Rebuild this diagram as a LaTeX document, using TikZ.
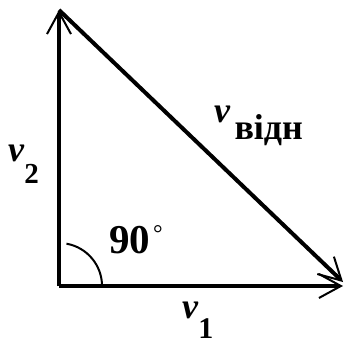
\documentclass[tikz,border=0pt]{standalone}
\usepackage{fontspec}
\setmainfont{Liberation Serif}
\usetikzlibrary{arrows.meta}
\begin{document}
\begin{tikzpicture}[x=1pt, y=-1pt, every node/.style={font=\fontsize{36}{38}\selectfont\bfseries, inner sep=0pt, anchor=base west},
  vec/.style={line width=4pt, -{Straight Barb[length=22pt,width=24pt,line width=2pt]}}]
\useasboundingbox (0,0) rectangle (346,347);
\coordinate (o) at (59,286);
\coordinate (top) at (59,10);
\coordinate (right) at (343,286);
\coordinate (tip) at (343,282);
\draw[vec] (o) -- (top);
\draw[vec] (o) -- (right);
\draw[vec] (top) -- (tip);
\draw[line width=2pt] (66.5,243.7) arc[start angle=-80, end angle=0, radius=43];
\node (v2) at (8,162) {\textit{v}\raisebox{-21pt}{\fontsize{29}{29}\selectfont 2}};
\node (v1) at (182,318) {\textit{v}\raisebox{-20pt}{\fontsize{30}{30}\selectfont 1}};
\node (ang) at (109,253) {\fontsize{41}{41}\selectfont 90\kern3pt\raisebox{12pt}{\fontsize{24}{24}\selectfont\mdseries °}};
\node (vrel) at (214,123) {\textit{v}\kern4pt\raisebox{-17pt}{відн}};
\end{tikzpicture}
\end{document}
